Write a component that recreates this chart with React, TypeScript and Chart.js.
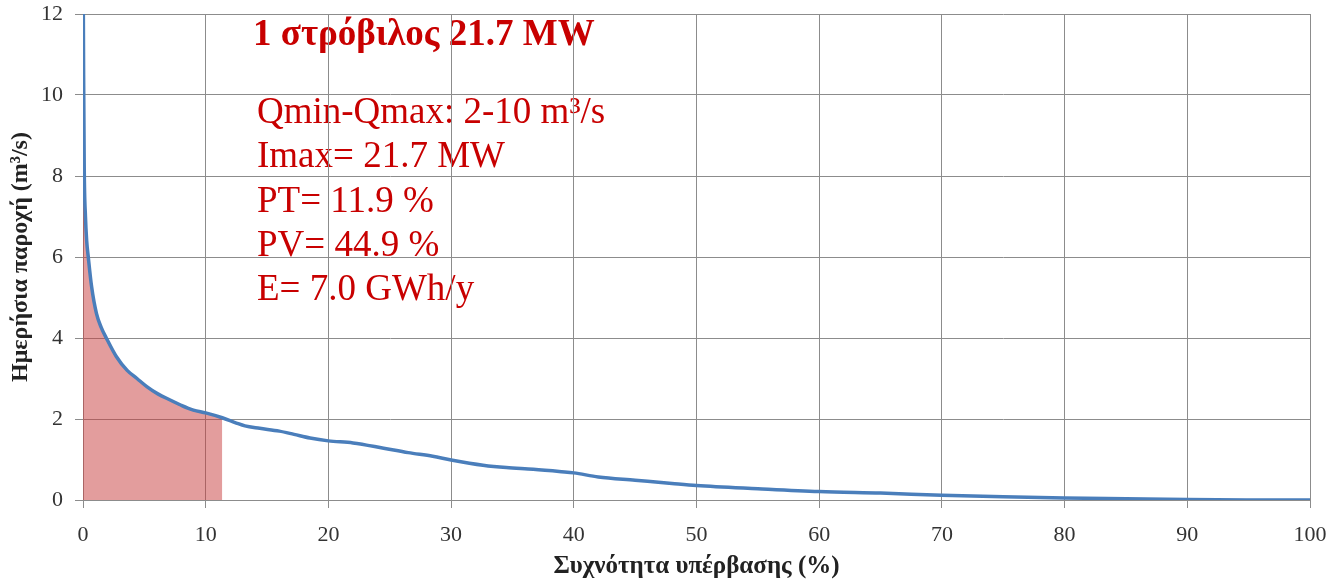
import React, { useEffect, useRef } from "react";
import { Chart, registerables } from "chart.js";

Chart.register(...registerables);

// Flow-duration curve: exceedance frequency (%) vs daily flow (m³/s)
const exceedance = [
  0, 0.05, 0.1, 0.2, 0.3, 0.43, 0.7, 1.1, 1.5, 1.9, 2.7, 3.6, 4.4, 5.2, 6.1, 7.1, 8.0, 9.0, 10.0,
  11.35, 12.5, 13.2, 14.4, 16.0, 17.2, 18.5, 20.0, 22.0, 24.5, 26.5, 28.5, 30.0, 32.6, 34.5, 36.7,
  39.0, 40.0, 42.0, 45.0, 48.0, 50.0, 55.0, 60.0, 65.0, 70.0, 75.0, 80.0, 85.0, 90.0, 95.0, 100.0,
];
const flow = [
  14.0, 10.5, 8.2, 7.0, 6.4, 6.0, 5.27, 4.6, 4.25, 4.0, 3.55, 3.2, 3.0, 2.8, 2.62, 2.47, 2.34, 2.22, 2.15,
  2.03, 1.9, 1.83, 1.77, 1.7, 1.62, 1.53, 1.46, 1.41, 1.28, 1.17, 1.08, 0.99, 0.86, 0.8, 0.76,
  0.7, 0.67, 0.57, 0.49, 0.41, 0.36, 0.28, 0.21, 0.17, 0.12, 0.08, 0.05, 0.03, 0.01, 0.0, 0.0,
];

// Shaded operating range ends where the flow reaches Qmin
const operatingLimit = 11.35;

const titleText = "1 στρόβιλος 21.7 MW";
const infoLines = [
  "Qmin-Qmax: 2-10 m³/s",
  "Imax= 21.7 MW",
  "PT= 11.9 %",
  "PV= 44.9 %",
  "E= 7.0 GWh/y",
];

const xTicks = [0, 10, 20, 30, 40, 50, 60, 70, 80, 90, 100];
const yTicks = [0, 2, 4, 6, 8, 10, 12];

const SERIF = "'Liberation Serif', 'Times New Roman', serif";
const RED = "#C80000";

const infoPlugin = {
  id: "infoText",
  beforeDraw(chart: any) {
    const { ctx, chartArea } = chart;
    ctx.save();
    ctx.fillStyle = RED;
    ctx.textBaseline = "alphabetic";
    ctx.textAlign = "left";
    ctx.font = `bold 37px ${SERIF}`;
    ctx.fillText(titleText, chartArea.left + 170, chartArea.top + 31);
    ctx.font = `37px ${SERIF}`;
    infoLines.forEach((line, i) => {
      ctx.fillText(line, chartArea.left + 174, chartArea.top + 109 + i * 44.3);
    });
    ctx.restore();
  },
};

export default function App() {
  const canvasRef = useRef<HTMLCanvasElement | null>(null);

  useEffect(() => {
    document.body.style.margin = "0";
    const canvas = canvasRef.current;
    if (!canvas) return;

    const linePoints = exceedance.map((x, i) => ({ x, y: flow[i] }));
    const fillPoints = linePoints.filter((p) => p.x <= operatingLimit);

    const chart = new Chart(canvas, {
      type: "line",
      data: {
        datasets: [
          {
            data: linePoints,
            borderColor: "#4A7EBB",
            borderWidth: 3.5,
            pointRadius: 0,
            cubicInterpolationMode: "monotone",
            fill: false,
            order: 1,
          },
          {
            data: fillPoints,
            borderWidth: 0,
            borderColor: "rgba(0,0,0,0)",
            backgroundColor: "rgba(200,60,60,0.5)",
            pointRadius: 0,
            cubicInterpolationMode: "monotone",
            fill: "origin",
            order: 2,
          },
        ],
      },
      options: {
        responsive: false,
        animation: false,
        layout: { padding: { top: 14, right: 26, left: 0, bottom: 0 } },
        plugins: {
          legend: { display: false },
          tooltip: { enabled: false },
        },
        scales: {
          x: {
            type: "linear",
            min: 0,
            max: 100,
            afterBuildTicks: (s: any) => {
              s.ticks = xTicks.map((v) => ({ value: v }));
            },
            afterFit: (s: any) => {
              s.height = 84;
              s.paddingLeft = 0;
              s.paddingRight = 0;
            },
            grid: { color: "#8C8C8C", lineWidth: 1, tickLength: 8 },
            border: { color: "#8C8C8C" },
            ticks: {
              color: "#333",
              padding: 14,
              maxRotation: 0,
              font: { family: SERIF, size: 22 },
            },
            title: {
              display: true,
              text: "Συχνότητα υπέρβασης (%)",
              color: "#222",
              font: { family: SERIF, size: 25, weight: "bold" },
              padding: { top: 0, bottom: 2 },
            },
          },
          y: {
            type: "linear",
            min: 0,
            max: 12,
            afterBuildTicks: (s: any) => {
              s.ticks = yTicks.map((v) => ({ value: v }));
            },
            afterFit: (s: any) => {
              s.width = 83;
              s.paddingTop = 0;
              s.paddingBottom = 0;
            },
            grid: { color: "#8C8C8C", lineWidth: 1, tickLength: 8 },
            border: { color: "#8C8C8C" },
            ticks: {
              color: "#333",
              padding: 12,
              font: { family: SERIF, size: 22 },
            },
            title: {
              display: true,
              text: "Ημερήσια παροχή (m³/s)",
              color: "#222",
              font: { family: SERIF, size: 24, weight: "bold" },
              padding: { top: 6, bottom: 0 },
            },
          },
        },
      },
      plugins: [infoPlugin],
    });

    return () => chart.destroy();
  }, []);

  return (
    <div style={{ width: 1336, height: 584, background: "#fff" }}>
      <canvas ref={canvasRef} width={1336} height={584} />
    </div>
  );
}
